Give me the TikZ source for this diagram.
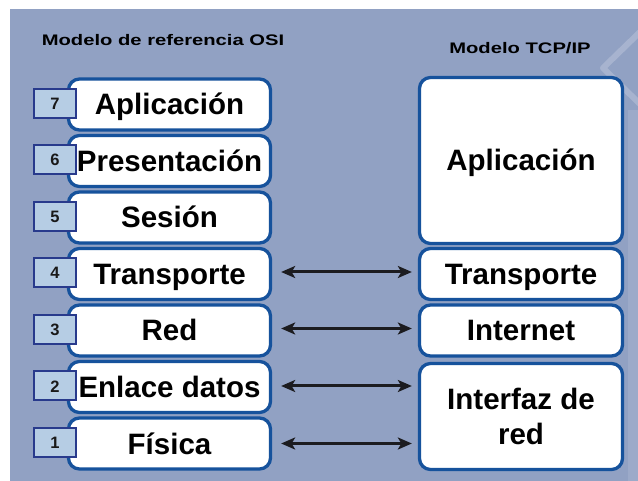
\documentclass[tikz,border=0pt]{standalone}
\usepackage{fontspec}
\setmainfont{Liberation Sans}
\usetikzlibrary{arrows.meta}

\definecolor{bgblue}{RGB}{145,161,195}
\definecolor{boxblue}{RGB}{22,82,156}
\definecolor{numfill}{RGB}{182,205,228}
\definecolor{numline}{RGB}{40,58,140}
\definecolor{arrowgray}{RGB}{28,28,32}

\tikzset{
  layer/.style={draw=boxblue, line width=3.3pt, fill=white, rounded corners=11pt,
    inner sep=0pt, minimum width=202pt, minimum height=51pt,
    text height=21pt, text depth=0pt,
    font=\fontsize{29.5}{35}\selectfont\bfseries, align=center},
  tcplayer/.style={layer, minimum width=203pt},
  numbox/.style={draw=numline, line width=2pt, fill=numfill, inner sep=0pt,
    minimum width=42pt, minimum height=29pt, text height=12pt, text depth=0pt,
    font=\fontsize{16.5}{18}\selectfont\bfseries, text=black!90},
  heading/.style={font=\fontsize{15.3}{17}\selectfont\bfseries, anchor=base, inner sep=0pt},
  link/.style={draw=arrowgray, line width=3pt,
    {Stealth[length=14pt,width=12pt,inset=3.5pt]}-{Stealth[length=14pt,width=12pt,inset=3.5pt]}}
}

\begin{document}
\begin{tikzpicture}[x=1pt,y=-1pt]
  % frame and backdrop
  \useasboundingbox (0,0) rectangle (638,481);
  \fill[white] (0,0) rectangle (638,481);
  \fill[bgblue] (10,9) rectangle (638,481);
  \begin{scope}
    \clip (10,9) rectangle (638,481);
    \draw[white, opacity=0.2, line width=6pt, line join=round]
      (603,68) -- (640,32) -- (676,68) -- (640,104) -- cycle;
    \fill[white, opacity=0.1] (628,110) rectangle (638,481);
  \end{scope}

  % headings
  \node[heading] (hosi) at (163,46) {\scalebox{1.32}[1]{Modelo de referencia OSI}};
  \node[heading] (htcp) at (520,54) {\scalebox{1.32}[1]{Modelo TCP/IP}};

  % OSI reference model layers
  \node[layer] (o7) at (169.5,104.5) {Aplicación};
  \node[layer] (o6) at (169.5,161)   {Presentación};
  \node[layer] (o5) at (169.5,217.5) {Sesión};
  \node[layer] (o4) at (169.5,274)   {Transporte};
  \node[layer] (o3) at (169.5,330.5) {Red};
  \node[layer] (o2) at (169.5,387)   {Enlace datos};
  \node[layer] (o1) at (169.5,443.5) {Física};

  % layer numbers
  \foreach \n in {1,...,7}
    \node[numbox] (n\n) at ([yshift=1pt] o\n.center -| 55,0) {\n};

  % TCP/IP model layers
  \node[tcplayer, minimum height=166pt] (t4) at (521,160.5) {Aplicación};
  \node[tcplayer] (t3) at (521,274)   {Transporte};
  \node[tcplayer] (t2) at (521,330.5) {Internet};
  \node[tcplayer, minimum height=106pt, text height=, text depth=] (t1) at (521,416.5) {Interfaz de\\red};

  % correspondence arrows
  \draw[link] ([xshift=9pt,yshift=2pt] o4.east) -- ([xshift=-6pt,yshift=2pt] o4.east -| t3.west);
  \draw[link] ([xshift=9pt,yshift=2pt] o3.east) -- ([xshift=-6pt,yshift=2pt] o3.east -| t2.west);
  \draw[link] ([xshift=9pt,yshift=1pt] o2.east) -- ([xshift=-6pt,yshift=1pt] o2.east -| t1.west);
  \draw[link] ([xshift=9pt,yshift=0pt] o1.east) -- ([xshift=-6pt,yshift=0pt] o1.east -| t1.west);
\end{tikzpicture}
\end{document}
